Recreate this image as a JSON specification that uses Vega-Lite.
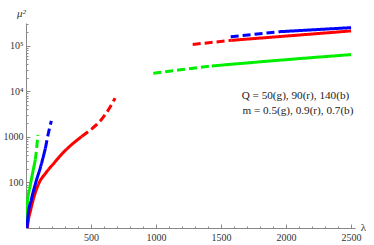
{
  "$schema": "https://vega.github.io/schema/vega-lite/v6.json",
  "width": 329,
  "height": 205,
  "autosize": {"type": "none"},
  "padding": {"left": 26, "top": 23, "right": 19, "bottom": 17},
  "config": {"view": {"stroke": null}, "font": "Liberation Serif"},
  "resolve": {"axis": {"x": "independent", "y": "independent"}},
  "layer": [
    {
      "data": {
        "values": [
          {"seg": "g1", "series": "g", "style": "solid", "lambda": 0, "mu2": 5},
          {"seg": "g1", "series": "g", "style": "solid", "lambda": 10, "mu2": 35},
          {"seg": "g1", "series": "g", "style": "solid", "lambda": 31, "mu2": 81},
          {"seg": "g1", "series": "g", "style": "solid", "lambda": 56, "mu2": 190},
          {"seg": "g1", "series": "g", "style": "solid", "lambda": 72, "mu2": 316},
          {"seg": "g2", "series": "g", "style": "dashed", "lambda": 72, "mu2": 316},
          {"seg": "g2", "series": "g", "style": "dashed", "lambda": 80, "mu2": 500},
          {"seg": "g2", "series": "g", "style": "dashed", "lambda": 86, "mu2": 750},
          {"seg": "g2", "series": "g", "style": "dashed", "lambda": 92, "mu2": 1100},
          {"seg": "g3", "series": "g", "style": "dashed", "lambda": 979, "mu2": 24800},
          {"seg": "g3", "series": "g", "style": "dashed", "lambda": 1200, "mu2": 30000},
          {"seg": "g3", "series": "g", "style": "dashed", "lambda": 1428, "mu2": 36000},
          {"seg": "g4", "series": "g", "style": "solid", "lambda": 1428, "mu2": 36000},
          {"seg": "g4", "series": "g", "style": "solid", "lambda": 1979, "mu2": 49000},
          {"seg": "g4", "series": "g", "style": "solid", "lambda": 2500, "mu2": 64000},
          {"seg": "r1", "series": "r", "style": "solid", "lambda": 0, "mu2": 5},
          {"seg": "r1", "series": "r", "style": "solid", "lambda": 15, "mu2": 13},
          {"seg": "r1", "series": "r", "style": "solid", "lambda": 36, "mu2": 25},
          {"seg": "r1", "series": "r", "style": "solid", "lambda": 62, "mu2": 49},
          {"seg": "r1", "series": "r", "style": "solid", "lambda": 100, "mu2": 97},
          {"seg": "r1", "series": "r", "style": "solid", "lambda": 151, "mu2": 160},
          {"seg": "r1", "series": "r", "style": "solid", "lambda": 215, "mu2": 265},
          {"seg": "r1", "series": "r", "style": "solid", "lambda": 287, "mu2": 455},
          {"seg": "r1", "series": "r", "style": "solid", "lambda": 364, "mu2": 728},
          {"seg": "r1", "series": "r", "style": "solid", "lambda": 428, "mu2": 1016},
          {"seg": "r2", "series": "r", "style": "dashed", "lambda": 428, "mu2": 1016},
          {"seg": "r2", "series": "r", "style": "dashed", "lambda": 492, "mu2": 1400},
          {"seg": "r2", "series": "r", "style": "dashed", "lambda": 569, "mu2": 2200},
          {"seg": "r2", "series": "r", "style": "dashed", "lambda": 633, "mu2": 3900},
          {"seg": "r2", "series": "r", "style": "dashed", "lambda": 685, "mu2": 7100},
          {"seg": "r3", "series": "r", "style": "dashed", "lambda": 1282, "mu2": 107000},
          {"seg": "r3", "series": "r", "style": "dashed", "lambda": 1582, "mu2": 132000},
          {"seg": "r4", "series": "r", "style": "solid", "lambda": 1582, "mu2": 132000},
          {"seg": "r4", "series": "r", "style": "solid", "lambda": 2030, "mu2": 166000},
          {"seg": "r4", "series": "r", "style": "solid", "lambda": 2500, "mu2": 212000},
          {"seg": "b1", "series": "b", "style": "solid", "lambda": 0, "mu2": 5},
          {"seg": "b1", "series": "b", "style": "solid", "lambda": 15, "mu2": 18},
          {"seg": "b1", "series": "b", "style": "solid", "lambda": 41, "mu2": 42},
          {"seg": "b1", "series": "b", "style": "solid", "lambda": 74, "mu2": 97},
          {"seg": "b1", "series": "b", "style": "solid", "lambda": 113, "mu2": 224},
          {"seg": "b1", "series": "b", "style": "solid", "lambda": 149, "mu2": 560},
          {"seg": "b2", "series": "b", "style": "dashed", "lambda": 149, "mu2": 560},
          {"seg": "b2", "series": "b", "style": "dashed", "lambda": 172, "mu2": 1200},
          {"seg": "b2", "series": "b", "style": "dashed", "lambda": 195, "mu2": 2250},
          {"seg": "b3", "series": "b", "style": "dashed", "lambda": 1574, "mu2": 158000},
          {"seg": "b3", "series": "b", "style": "dashed", "lambda": 1953, "mu2": 204000},
          {"seg": "b4", "series": "b", "style": "solid", "lambda": 1953, "mu2": 204000},
          {"seg": "b4", "series": "b", "style": "solid", "lambda": 2500, "mu2": 250000}
        ]
      },
      "mark": {"type": "line", "strokeWidth": 3, "clip": true, "interpolate": "monotone"},
      "encoding": {
        "x": {
          "field": "lambda",
          "type": "quantitative",
          "scale": {"domain": [0, 2530], "nice": false, "zero": false},
          "axis": {
            "orient": "bottom",
            "values": [500, 1000, 1500, 2000, 2500],
            "format": "d",
            "grid": false,
            "domainColor": "#888",
            "tickColor": "#888",
            "tickSize": -4,
            "labelPadding": 8.5,
            "labelFontSize": 10,
            "labelColor": "#333",
            "labelFlush": false,
            "labelOverlap": false,
            "title": "λ",
            "titleFontSize": 11,
            "titleFontWeight": "normal",
            "titleColor": "#333",
            "titleX": 337,
            "titleY": 2,
            "titleAlign": "center",
            "titleBaseline": "alphabetic"
          }
        },
        "y": {
          "field": "mu2",
          "type": "quantitative",
          "scale": {"type": "log", "domain": [10, 316228], "nice": false},
          "axis": {
            "orient": "left",
            "values": [100, 1000, 10000, 100000],
            "labelExpr": "datum.value == 10000 ? '10⁴' : datum.value == 100000 ? '10⁵' : datum.value == 1000 ? '1000' : '100'",
            "grid": false,
            "domainColor": "#888",
            "tickColor": "#888",
            "tickSize": -4,
            "labelPadding": 7,
            "labelFontSize": 10,
            "labelColor": "#333",
            "labelFlush": false,
            "labelOverlap": false,
            "title": "μ²",
            "titleAngle": 0,
            "titleFontSize": 11,
            "titleFontWeight": "normal",
            "titleFontStyle": "italic",
            "titleColor": "#333",
            "titleX": -5,
            "titleY": -7,
            "titleAlign": "center",
            "titleBaseline": "alphabetic"
          }
        },
        "color": {
          "field": "series",
          "type": "nominal",
          "scale": {"domain": ["g", "r", "b"], "range": ["#00ee00", "#ff0000", "#0000ff"]},
          "legend": null
        },
        "strokeDash": {
          "field": "style",
          "type": "nominal",
          "scale": {"domain": ["solid", "dashed"], "range": [[1, 0], [8, 4]]},
          "legend": null
        },
        "detail": {"field": "seg", "type": "nominal"}
      }
    },
    {
      "data": {
        "values": [
          {"label": "Q = 50(g), 90(r), 140(b)", "lambda": 2072, "mu2": 6700},
          {"label": "m = 0.5(g), 0.9(r), 0.7(b)", "lambda": 2091, "mu2": 3140}
        ]
      },
      "mark": {"type": "text", "fontSize": 11.2, "font": "Liberation Serif", "align": "center", "baseline": "alphabetic", "color": "#222"},
      "encoding": {
        "x": {
          "field": "lambda",
          "type": "quantitative",
          "axis": {
            "orient": "bottom",
            "values": [100, 200, 300, 400, 600, 700, 800, 900, 1100, 1200, 1300, 1400, 1600, 1700, 1800, 1900, 2100, 2200, 2300, 2400],
            "labels": false,
            "domain": false,
            "grid": false,
            "tickColor": "#888",
            "tickSize": -2,
            "title": null
          }
        },
        "y": {
          "field": "mu2",
          "type": "quantitative",
          "axis": {
            "orient": "left",
            "values": [20, 30, 40, 50, 60, 70, 80, 90, 200, 300, 400, 500, 600, 700, 800, 900, 2000, 3000, 4000, 5000, 6000, 7000, 8000, 9000, 20000, 30000, 40000, 50000, 60000, 70000, 80000, 90000, 200000, 300000],
            "labels": false,
            "domain": false,
            "grid": false,
            "tickColor": "#888",
            "tickSize": -2,
            "title": null
          }
        },
        "text": {"field": "label", "type": "nominal"}
      }
    }
  ]
}
